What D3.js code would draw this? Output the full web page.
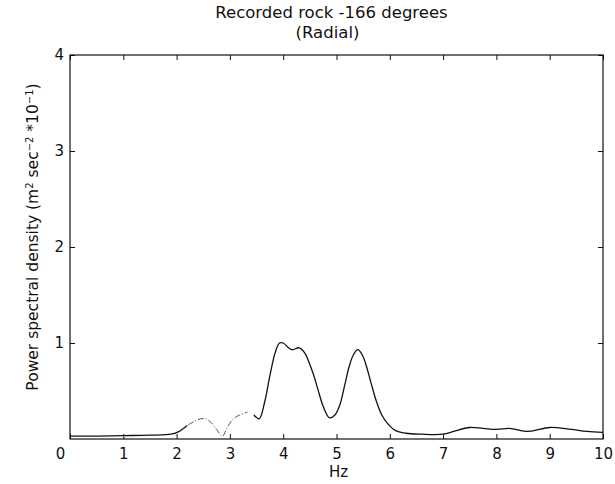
<!DOCTYPE html>
<html>
<head>
<meta charset="utf-8">
<script src="https://cdn.jsdelivr.net/npm/d3@7"></script>
<style>
  body { margin: 0; background: #fff; }
  svg { display: block; }
  text { font-family: "DejaVu Sans", "Liberation Sans", Arial, sans-serif; fill: #111; }
</style>
</head>
<body>
<svg id="chart" width="615" height="484"></svg>
<script>
// Frequency (Hz) and power spectral density
const hz = [0, 0.5, 1, 1.5, 1.9, 2.05, 2.2, 2.35, 2.45, 2.55, 2.65, 2.75, 2.86, 2.95,
  3.05, 3.18, 3.33, 3.45, 3.55, 3.65, 3.75, 3.85, 3.93, 4.0, 4.1, 4.17, 4.3, 4.4,
  4.55, 4.65, 4.75, 4.87, 4.97, 5.06, 5.15, 5.24, 5.32, 5.4, 5.48, 5.56, 5.65, 5.75,
  5.85, 5.96, 6.1, 6.3, 6.6, 7.0, 7.2, 7.5, 7.75, 8.0, 8.25, 8.6, 9.0, 9.4, 9.7, 10];
const psd = [0.03, 0.03, 0.035, 0.04, 0.05, 0.08, 0.14, 0.19, 0.21, 0.21, 0.17, 0.10, 0.03, 0.12,
  0.20, 0.25, 0.28, 0.25, 0.21, 0.38, 0.66, 0.90, 1.0, 1.0, 0.95, 0.93, 0.95, 0.90,
  0.70, 0.52, 0.34, 0.22, 0.25, 0.35, 0.55, 0.76, 0.88, 0.93, 0.88, 0.76, 0.58, 0.39,
  0.25, 0.16, 0.09, 0.06, 0.05, 0.05, 0.08, 0.12, 0.11, 0.10, 0.11, 0.08, 0.12, 0.10, 0.08, 0.07];
const xTicks = [0, 1, 2, 3, 4, 5, 6, 7, 8, 9, 10];
const yTicks = [1, 2, 3, 4];
// faint (dashed-looking) stretch of the trace in the scan
const faintRange = [2.15, 3.35];

const svg = d3.select("#chart");
const margin = { top: 55, right: 12, bottom: 45, left: 70 };
const width = 615 - margin.left - margin.right;
const height = 484 - margin.top - margin.bottom;

const g = svg.append("g").attr("transform", `translate(${margin.left},${margin.top})`);

const x = d3.scaleLinear().domain([0, 10]).range([0, width]);
const y = d3.scaleLinear().domain([0, 4]).range([height, 0]);

const data = hz.map((h, i) => ({ h, v: psd[i] }));

// frame
g.append("rect")
  .attr("width", width).attr("height", height)
  .attr("fill", "none").attr("stroke", "#111").attr("stroke-width", 1.2);

// inward ticks on all four sides
const styleAxis = (sel) => {
  sel.select(".domain").remove();
  sel.selectAll(".tick line").attr("stroke", "#111");
  sel.selectAll(".tick text").style("font-size", "15px").attr("fill", "#111");
};

g.append("g")
  .attr("transform", `translate(0,${height})`)
  .call(d3.axisBottom(x).tickValues(xTicks).tickSize(-5).tickPadding(9).tickFormat(d3.format("d")))
  .call(styleAxis)
  .call((a) => a.selectAll(".tick text").filter((d) => d === 0).attr("dx", -10));

g.append("g")
  .call(d3.axisTop(x).tickValues(xTicks).tickSize(-5).tickFormat(""))
  .call(styleAxis);

g.append("g")
  .call(d3.axisLeft(y).tickValues(yTicks).tickSize(-5).tickPadding(6).tickFormat(d3.format("d")))
  .call(styleAxis);

g.append("g")
  .attr("transform", `translate(${width},0)`)
  .call(d3.axisRight(y).tickValues(yTicks).tickSize(-5).tickFormat(""))
  .call(styleAxis);

// spectrum trace
const line = d3.line()
  .x((d) => x(d.h))
  .y((d) => y(d.v))
  .curve(d3.curveCatmullRom.alpha(0.5));

const before = data.filter((d) => d.h <= faintRange[0] + 0.06);
const faint = data.filter((d) => d.h >= faintRange[0] - 0.2 && d.h <= faintRange[1]);
const after = data.filter((d) => d.h >= faintRange[1] - 0.01);

g.append("path").datum(before).attr("d", line)
  .attr("fill", "none").attr("stroke", "#111").attr("stroke-width", 1.3);
g.append("path").datum(faint).attr("d", line)
  .attr("fill", "none").attr("stroke", "#555").attr("stroke-width", 1)
  .attr("stroke-dasharray", "6,2,1,2");
g.append("path").datum(after).attr("d", line)
  .attr("fill", "none").attr("stroke", "#111").attr("stroke-width", 1.3);

// titles
svg.append("text")
  .attr("x", margin.left + width / 2 - 5).attr("y", 18)
  .attr("text-anchor", "middle").style("font-size", "16.5px")
  .text("Recorded rock -166 degrees");
svg.append("text")
  .attr("x", margin.left + width / 2 - 9).attr("y", 38)
  .attr("text-anchor", "middle").style("font-size", "16.5px")
  .text("(Radial)");

// axis labels
svg.append("text")
  .attr("x", margin.left + width / 2 + 2).attr("y", 477)
  .attr("text-anchor", "middle").style("font-size", "15px")
  .text("Hz");

const yl = svg.append("text")
  .attr("transform", `translate(38,${margin.top + height / 2 - 10}) rotate(-90)`)
  .attr("text-anchor", "middle").style("font-size", "15.5px");
yl.append("tspan").text("Power spectral density (m");
yl.append("tspan").attr("baseline-shift", "super").style("font-size", "10px").text("2");
yl.append("tspan").text(" sec");
yl.append("tspan").attr("baseline-shift", "super").style("font-size", "10px").text("−2");
yl.append("tspan").text(" *10");
yl.append("tspan").attr("baseline-shift", "super").style("font-size", "10px").text("−1");
yl.append("tspan").text(")");
</script>
</body>
</html>
